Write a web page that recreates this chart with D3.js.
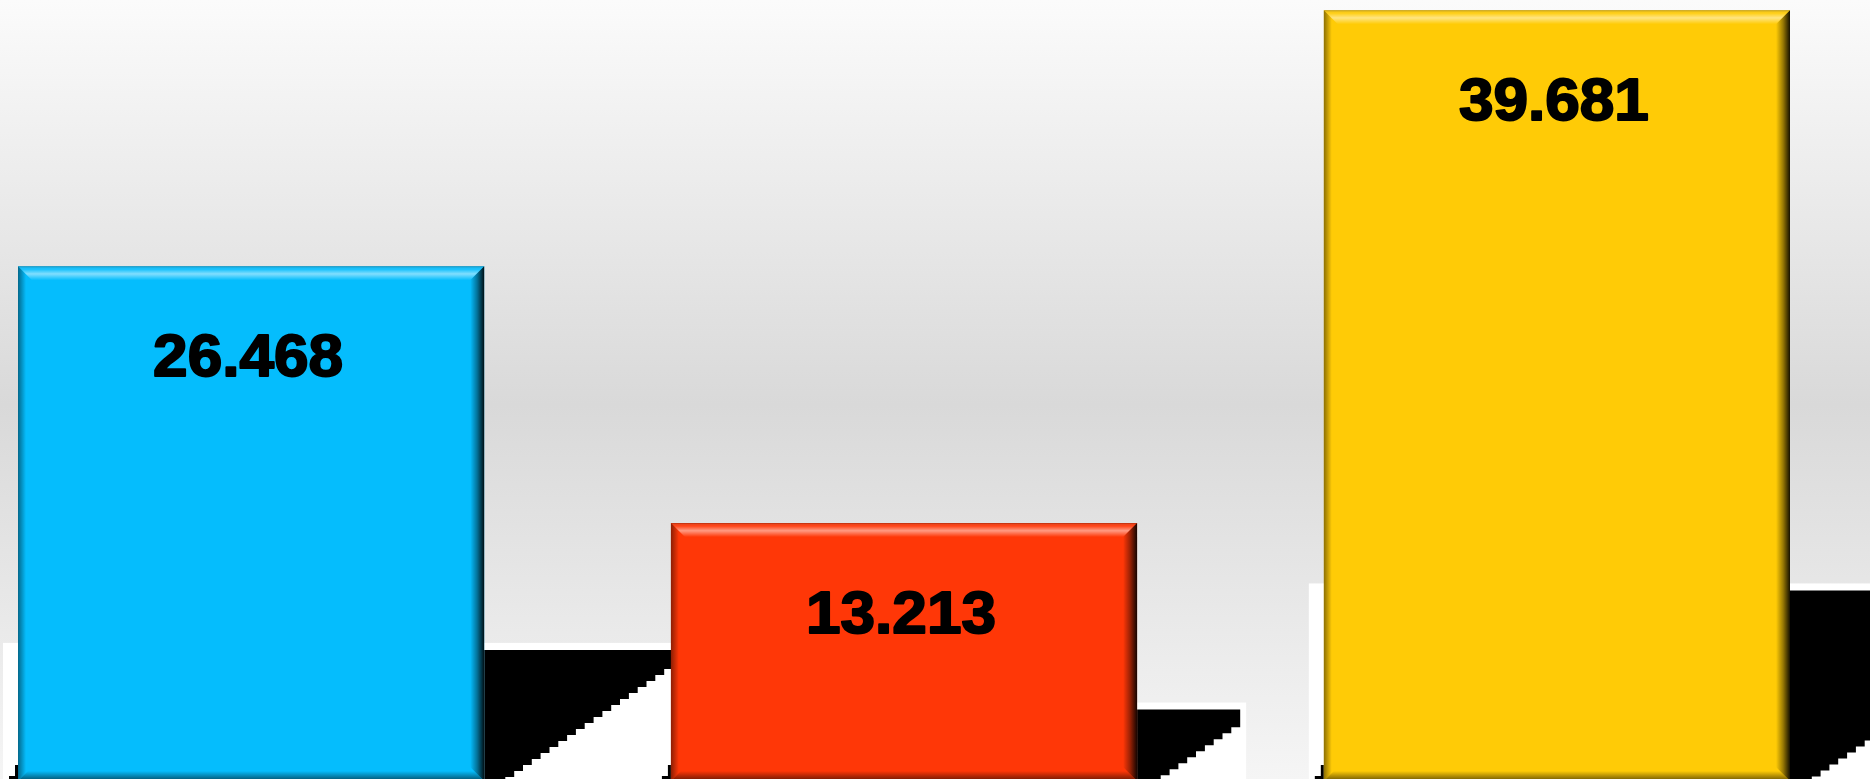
<!DOCTYPE html>
<html>
<head>
<meta charset="utf-8">
<script src="https://cdn.jsdelivr.net/npm/d3@7"></script>
<style>
  html, body { margin: 0; padding: 0; background: #fff; }
  svg { display: block; }
</style>
</head>
<body>
<div class="chart"></div>
<script>
// chart values
var categories = ["A", "B", "C"];
var values = [26.468, 13.213, 39.681];
var colors = ["#05bdfd", "#ff3707", "#ffcb06"];
var labels = ["26.468", "13.213", "39.681"];

var svgWidth = 1870;
var svgHeight = 779;

var svg = d3.select(".chart")
  .append("svg")
  .attr("width", svgWidth)
  .attr("height", svgHeight);

var defs = svg.append("defs");

// background gradient
var bg = defs.append("linearGradient")
  .attr("id", "bg")
  .attr("x1", 0).attr("y1", 0).attr("x2", 0).attr("y2", 1);
bg.append("stop").attr("offset", "0%").attr("stop-color", "#fbfbfb");
bg.append("stop").attr("offset", "52%").attr("stop-color", "#d9d9d9");
bg.append("stop").attr("offset", "100%").attr("stop-color", "#f5f5f5");

// bevel overlays
function grad(id, x2, y2, stops) {
  var g = defs.append("linearGradient")
    .attr("id", id)
    .attr("x1", 0).attr("y1", 0).attr("x2", x2).attr("y2", y2);
  stops.forEach(function(s) {
    g.append("stop")
      .attr("offset", s[0])
      .attr("stop-color", s[1])
      .attr("stop-opacity", s[2]);
  });
}
grad("bevTop", 0, 1, [["0%", "#000", 0.3], ["20%", "#fff", 0.05], ["55%", "#fff", 0.5], ["100%", "#fff", 0]]);
grad("bevRight", 1, 0, [["0%", "#000", 0], ["50%", "#000", 0.4], ["100%", "#000", 0.92]]);
grad("bevLeft", 1, 0, [["0%", "#000", 0.45], ["100%", "#000", 0]]);
grad("bevBottom", 0, 1, [["0%", "#000", 0], ["100%", "#000", 0.6]]);

svg.append("rect")
  .attr("width", svgWidth)
  .attr("height", svgHeight)
  .attr("fill", "url(#bg)");

// scales
var x = d3.scaleBand()
  .domain(categories)
  .range([18, 1790])
  .paddingInner(0.286)
  .paddingOuter(0);

var y = d3.scaleLinear()
  .domain([0, 40])
  .range([779, 4]);

// floor shadow (sheared projection of each bar)
var shadowY = d3.scaleLinear().domain([0, 40]).range([769, 589]);
var shadowW = d3.scaleLinear().domain([0, 40]).range([0, 312]);

var base = 779;
var slope = 0.68;
var foot = 18;

var data = categories.map(function(c, i) {
  return { cat: c, value: values[i], color: colors[i], label: labels[i] };
});

// white backing plates
svg.selectAll(".plate")
  .data(data)
  .enter()
  .append("rect")
  .attr("class", "plate")
  .attr("x", d => x(d.cat) - 15)
  .attr("y", d => shadowY(d.value) - 7)
  .attr("width", d => x.bandwidth() + 15 + shadowW(d.value) + 6)
  .attr("height", d => base - shadowY(d.value) + 7)
  .attr("fill", "#ffffff");

// shadow shapes with stepped diagonal
function shadowPath(d) {
  var x0 = x(d.cat) + x.bandwidth();
  var top = shadowY(d.value);
  var right = x0 + shadowW(d.value);
  var pts = [[x0, top], [right, top]];
  var yEdge = Math.max(top, base - slope * (right - (x0 + foot)));
  pts.push([right, yEdge]);
  // staircase down to the foot
  var yy = yEdge;
  var xx = right;
  while (yy < base) {
    var ny = Math.min(base, yy + 6);
    var nx = x0 + foot + (base - ny) / slope;
    pts.push([xx, ny]);
    pts.push([nx, ny]);
    xx = nx;
    yy = ny;
  }
  pts.push([x0, base]);
  return "M" + pts.map(p => p[0].toFixed(1) + "," + p[1].toFixed(1)).join("L") + "Z";
}

svg.selectAll(".shadow")
  .data(data)
  .enter()
  .append("path")
  .attr("class", "shadow")
  .attr("d", shadowPath)
  .attr("fill", "#000");

// little corner marks left of bars
svg.selectAll(".corner")
  .data(data)
  .enter()
  .append("path")
  .attr("class", "corner")
  .attr("d", d => {
    var l = x(d.cat);
    return "M" + (l - 9) + "," + (base - 3) + "H" + l + "V" + base + "H" + (l - 9) + "Z" +
      "M" + (l - 3) + "," + (base - 14) + "H" + l + "V" + base + "H" + (l - 3) + "Z";
  })
  .attr("fill", "#000");

// bars
var bars = svg.selectAll(".bar")
  .data(data)
  .enter()
  .append("g")
  .attr("class", "bar");

bars.append("rect")
  .attr("x", d => x(d.cat))
  .attr("y", d => y(d.value))
  .attr("width", x.bandwidth())
  .attr("height", d => base - y(d.value) + 2)
  .attr("fill", d => d.color);

var bev = 14;
function poly(pts) {
  return "M" + pts.map(p => p.join(",")).join("L") + "Z";
}
bars.append("path")
  .attr("d", d => {
    var x0 = x(d.cat), x1 = x0 + x.bandwidth(), y0 = y(d.value);
    return poly([[x0, y0], [x1, y0], [x1 - bev, y0 + bev], [x0 + bev, y0 + bev]]);
  })
  .attr("fill", "url(#bevTop)");

bars.append("path")
  .attr("d", d => {
    var x0 = x(d.cat), x1 = x0 + x.bandwidth(), y0 = y(d.value), y1 = base + 2;
    return poly([[x1, y0], [x1, y1], [x1 - bev, y1 - bev], [x1 - bev, y0 + bev]]);
  })
  .attr("fill", "url(#bevRight)");

bars.append("path")
  .attr("d", d => {
    var x0 = x(d.cat), y0 = y(d.value), y1 = base + 2;
    return poly([[x0, y0], [x0 + 8, y0 + 8], [x0 + 8, y1 - 8], [x0, y1]]);
  })
  .attr("fill", "url(#bevLeft)");

bars.append("path")
  .attr("d", d => {
    var x0 = x(d.cat), x1 = x0 + x.bandwidth(), y1 = base + 2;
    return poly([[x0, y1], [x0 + 10, y1 - 10], [x1 - 10, y1 - 10], [x1, y1]]);
  })
  .attr("fill", "url(#bevBottom)");

// value labels
bars.append("text")
  .attr("x", d => x(d.cat) + x.bandwidth() / 2 - 3)
  .attr("y", d => y(d.value) + 110)
  .attr("text-anchor", "middle")
  .attr("textLength", 190)
  .attr("lengthAdjust", "spacingAndGlyphs")
  .style("font-family", "'Liberation Sans', Arial, sans-serif")
  .style("font-weight", "bold")
  .style("font-size", "60px")
  .style("fill", "#000")
  .style("stroke", "#000")
  .style("stroke-width", "2px")
  .style("stroke-linejoin", "round")
  .text(d => d.label);
</script>
</body>
</html>
